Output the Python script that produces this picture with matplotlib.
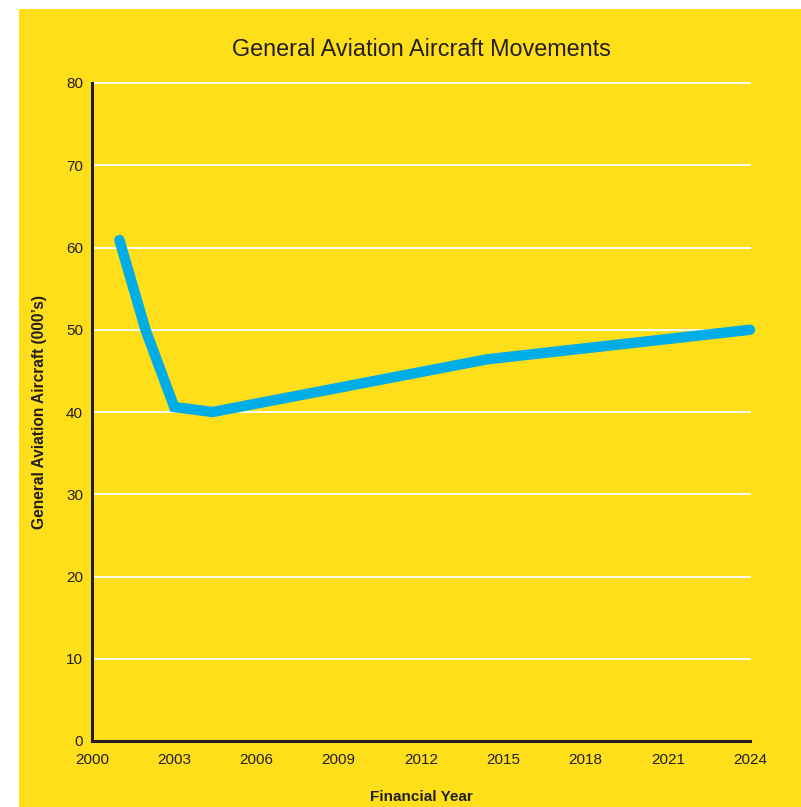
import matplotlib
matplotlib.use("Agg")
import matplotlib.pyplot as plt
from matplotlib.patches import Rectangle

# General aviation aircraft movements (thousands) by financial year
years = [2001.0, 2001.95, 2003.0, 2004.4, 2014.4, 2024.0]
movements = [60.9, 50.0, 40.6, 40.0, 46.4, 50.0]

x_ticks = [2000, 2003, 2006, 2009, 2012, 2015, 2018, 2021, 2024]
y_ticks = [0, 10, 20, 30, 40, 50, 60, 70, 80]

YELLOW = "#FFDE1A"
BLUE = "#00ADE6"
DARK = "#231F20"

plt.rcParams["font.family"] = ["Liberation Sans", "DejaVu Sans"]

W, H = 801, 807
fig = plt.figure(figsize=(W / 100, H / 100), dpi=100)
fig.patch.set_facecolor("white")
bg = Rectangle((19 / W, 0), 1 - 19 / W, (H - 9) / H,
               transform=fig.transFigure, facecolor=YELLOW,
               edgecolor="none", zorder=-10)
fig.add_artist(bg)

ax = fig.add_axes([92 / W, 1 - 741 / H, (750 - 92) / W, (741 - 83) / H])
ax.set_zorder(1)
ax.patch.set_alpha(0)

ax.set_xlim(2000, 2024)
ax.set_ylim(0, 80)
ax.set_xticks(x_ticks)
ax.set_yticks(y_ticks)
ax.tick_params(axis="both", length=0, labelsize=11, colors=DARK)
ax.tick_params(axis="y", pad=6.5)
ax.tick_params(axis="x", pad=9)

for v in y_ticks[1:]:
    ax.axhline(v, color="white", lw=1.3, zorder=1, clip_on=False)

for side in ("top", "right"):
    ax.spines[side].set_visible(False)
for side in ("left", "bottom"):
    ax.spines[side].set_color(DARK)
    ax.spines[side].set_linewidth(2.2)
    ax.spines[side].set_zorder(3)

ax.plot(years, movements, color=BLUE, lw=7.5, solid_capstyle="round",
        solid_joinstyle="miter", zorder=4, clip_on=False)

fig.text(421 / W, 1 - 50 / H, "General Aviation Aircraft Movements",
         ha="center", va="center", fontsize=16.8, color=DARK)
fig.text(40 / W, 1 - 412 / H, "General Aviation Aircraft (000\u2019s)",
         ha="center", va="center", rotation=90, fontsize=11.2,
         fontweight="bold", color=DARK)
fig.text(421 / W, 1 - 797 / H, "Financial Year", ha="center", va="center",
         fontsize=11, fontweight="bold", color=DARK)

fig.savefig("out.png", dpi=100, facecolor=fig.get_facecolor())
